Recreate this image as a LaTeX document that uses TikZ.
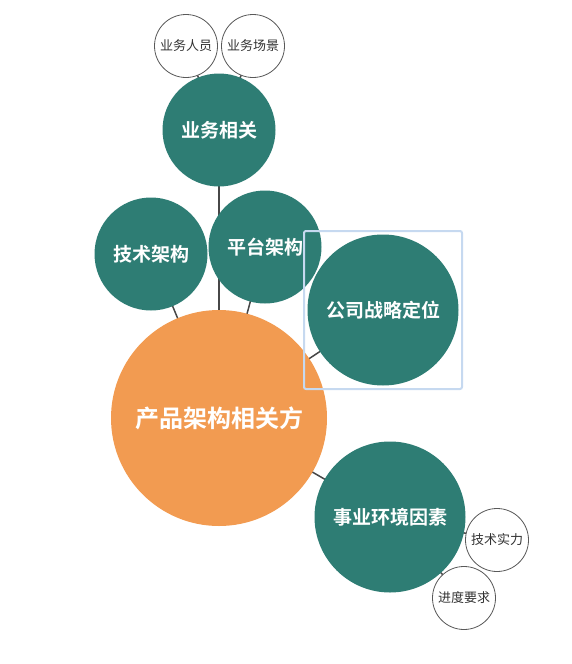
\documentclass[tikz,border=0pt]{standalone}
\usepackage{fontspec}
\usepackage{tikz}
\usetikzlibrary{positioning}
\newfontfamily\cjk[BoldFont={Noto Sans CJK SC Bold}]{Noto Sans CJK SC}
\definecolor{teal1}{HTML}{2E7D74}
\definecolor{orange1}{HTML}{F29B51}
\definecolor{hilite}{HTML}{C6D9F0}
\tikzstyle{hub} = [circle, fill=orange1, minimum size=216pt, inner sep=0pt, text=white, font=\cjk\bfseries\fontsize{24}{27}\selectfont]
\tikzstyle{topic} = [circle, fill=teal1, minimum size=113pt, inner sep=0pt, text=white, font=\cjk\bfseries\fontsize{19}{22}\selectfont]
\tikzstyle{bigtopic} = [topic, minimum size=151pt]
\tikzstyle{leaf} = [circle, draw=black!65, line width=0.8pt, fill=white, minimum size=63pt, inner sep=0pt, text=black!80, font=\cjk\fontsize{13}{15}\selectfont]
\tikzstyle{line} = [draw=black!72, line width=1.5pt]
\tikzstyle{selbox} = [draw=hilite, line width=2pt, rounded corners=2pt]

\begin{document}
\begin{tikzpicture}[x=1pt, y=-1pt]
        \useasboundingbox (0,0) rectangle (572,664);

		\coordinate (c0) at (219,418);
		\coordinate (c1) at (219,130);
		\coordinate (c2) at (151,254);
		\coordinate (c3) at (265,247);
		\coordinate (c4) at (383,310);
		\coordinate (c5) at (390,517);
		\coordinate (c6) at (186,46);
		\coordinate (c7) at (253,46);
		\coordinate (c8) at (497,540);
		\coordinate (c9) at (464,598);

		% Draw edges
		\path [line] (c0) -- (c1);
		\path [line] (c0) -- (c2);
		\path [line] (c0) -- (c3);
		\path [line] (c0) -- (c4);
		\path [line] (c0) -- (c5);
		\path [line] (c1) -- (c6);
		\path [line] (c1) -- (c7);
		\path [line] (c5) -- (c8);
		\path [line] (c5) -- (c9);

		% Draw bubbles
		\node (hub) [hub] at (c0) {产品架构相关方};
		\node (biz) [topic] at (c1) {业务相关};
		\node (tech) [topic] at (c2) {技术架构};
		\node (plat) [topic] at (c3) {平台架构};
		\node (corp) [bigtopic] at (c4) {公司战略定位};
		\node (env) [bigtopic] at (c5) {事业环境因素};
		\node (staff) [leaf] at (c6) {业务人员};
		\node (scene) [leaf, right of=staff, node distance=67pt] {业务场景};
		\node (power) [leaf] at (c8) {技术实力};
		\node (sched) [leaf] at (c9) {进度要求};

		\draw [selbox] (304,231) rectangle (462,389);

\end{tikzpicture}
\end{document}
